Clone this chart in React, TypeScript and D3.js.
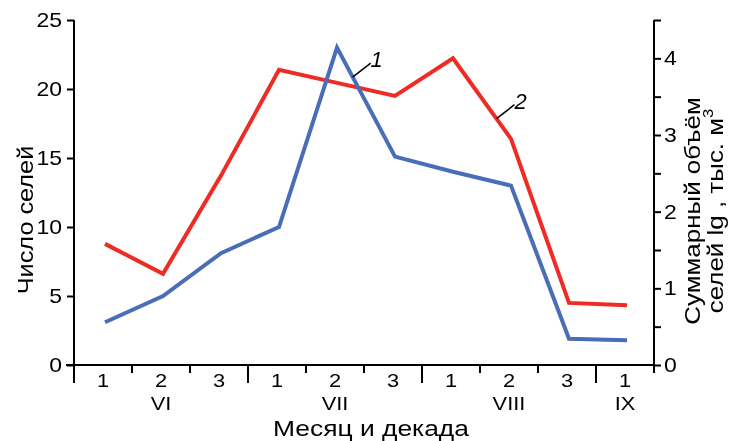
import React, { useEffect, useRef } from "react";
import * as d3 from "d3";

const decades = ["1", "2", "3", "1", "2", "3", "1", "2", "3", "1"];
const months = ["VI", "VII", "VIII", "IX"];
const monthDecades = [3, 3, 3, 1];
const mudflowCount = [3.1, 5.0, 8.1, 10.0, 23.0, 15.1, 14.0, 13.0, 1.9, 1.8];
const mudflowVolume = [1.58, 1.19, 2.47, 3.85, 3.68, 3.51, 4.0, 2.95, 0.81, 0.78];
const leftTicks = [0, 5, 10, 15, 20, 25];
const rightTicks = [0, 0.5, 1, 1.5, 2, 2.5, 3, 3.5, 4, 4.5];

const App = () => {
  const chartRef = useRef<SVGSVGElement | null>(null);

  useEffect(() => {
    const width = 733;
    const height = 441;
    const left = 74;
    const right = 654;
    const top = 20;
    const bottom = 365;
    const font = "'Liberation Sans', Arial, sans-serif";
    const sx = 1.15; // reference glyphs are a bit wider than Liberation Sans

    const svg = d3.select(chartRef.current);
    svg.selectAll("*").remove();
    svg.attr("width", width).attr("height", height);

    const x = d3
      .scaleBand<number>()
      .domain(d3.range(decades.length))
      .range([left, right])
      .padding(0);
    const xc = (i: number) => (x(i) as number) + x.bandwidth() / 2;

    const yLeft = d3.scaleLinear().domain([0, 25]).range([bottom, top]);
    const yRight = d3.scaleLinear().domain([0, 4.5]).range([bottom, top]);

    // left axis
    const gl = svg.append("g").attr("transform", `translate(${left},0)`);
    gl.call(
      d3.axisLeft(yLeft).tickValues(leftTicks).tickSize(7).tickPadding(4).tickFormat(d3.format("d"))
    );
    gl.select(".domain").remove();
    gl.selectAll(".tick text").attr("x", -12 / sx).attr("transform", `scale(${sx},1)`);
    gl.append("line")
      .attr("y1", top)
      .attr("y2", bottom + 18)
      .attr("stroke", "#000")
      .attr("stroke-width", 2);

    // right axis
    const gr = svg.append("g").attr("transform", `translate(${right},0)`);
    gr.call(
      d3
        .axisRight(yRight)
        .tickValues(rightTicks)
        .tickSize(7)
        .tickPadding(3)
        .tickFormat((d) => (Number.isInteger(+d) ? String(d) : ""))
    );
    gr.select(".domain").remove();
    gr.selectAll(".tick")
      .filter((d) => +d === 4.5)
      .select("text")
      .remove();
    gr.selectAll(".tick text").attr("x", 10 / sx).attr("transform", `scale(${sx},1)`);
    gr.append("line")
      .attr("y1", top)
      .attr("y2", bottom)
      .attr("stroke", "#000")
      .attr("stroke-width", 2);

    // bottom axis
    const gb = svg.append("g");
    gb.append("line")
      .attr("x1", left - 8)
      .attr("x2", right)
      .attr("y1", bottom)
      .attr("y2", bottom)
      .attr("stroke", "#000")
      .attr("stroke-width", 2);
    const monthStarts = Array.from(d3.cumsum([0, ...monthDecades.slice(0, -1)]));
    d3.range(1, decades.length + 1).forEach((i) => {
      const xp = i < decades.length ? (x(i) as number) : right;
      const long = monthStarts.includes(i);
      gb.append("line")
        .attr("x1", xp)
        .attr("x2", xp)
        .attr("y1", bottom)
        .attr("y2", bottom + (long ? 18 : 8))
        .attr("stroke", "#000")
        .attr("stroke-width", 2);
    });
    gb.selectAll("text.decade")
      .data(decades)
      .join("text")
      .attr("class", "decade")
      .attr("transform", (d, i) => `translate(${xc(i)},${bottom + 22}) scale(${sx},1)`)
      .attr("text-anchor", "middle")
      .text((d) => d);
    gb.selectAll("text.month")
      .data(months)
      .join("text")
      .attr("class", "month")
      .attr("transform", (d, i) => {
        const s = monthStarts[i];
        const mx = (xc(s) + xc(s + monthDecades[i] - 1)) / 2;
        return `translate(${mx},${bottom + 45}) scale(${sx},1)`;
      })
      .attr("text-anchor", "middle")
      .text((d) => d);

    svg.selectAll(".tick text")
      .attr("font-family", font)
      .attr("font-size", 20)
      .attr("fill", "#000");
    svg.selectAll("text.decade, text.month")
      .attr("font-family", font)
      .attr("font-size", 19)
      .attr("fill", "#000");
    svg.selectAll(".tick line").attr("stroke", "#000").attr("stroke-width", 2);

    // axis titles
    svg.append("text")
      .attr("transform", `translate(${(left + right) / 2 + 7},436) scale(${sx + 0.05},1)`)
      .attr("text-anchor", "middle")
      .attr("font-family", font)
      .attr("font-size", 22)
      .text("Месяц и декада");

    svg.append("text")
      .attr("transform", `translate(33,220) rotate(-90) scale(${sx},1)`)
      .attr("text-anchor", "middle")
      .attr("font-family", font)
      .attr("font-size", 22)
      .text("Число селей");

    const rt = svg.append("text")
      .attr("transform", `translate(700,211) rotate(-90) scale(${sx + 0.03},1)`)
      .attr("text-anchor", "middle")
      .attr("font-family", font)
      .attr("font-size", 22);
    rt.append("tspan").attr("x", 0).attr("dy", 0).text("Суммарный объём");
    const l2 = rt.append("tspan").attr("x", 0).attr("dy", 23);
    l2.append("tspan").text("селей lg , тыс. м");
    l2.append("tspan").attr("dy", -10).attr("font-size", 14).text("3");

    // lines
    const line = d3.line<number>().x((d, i) => xc(i) + 2);
    svg.append("path")
      .datum(mudflowVolume)
      .attr("fill", "none")
      .attr("stroke", "#ee2b24")
      .attr("stroke-width", 4)
      .attr("d", line.y((d) => yRight(d)));
    svg.append("path")
      .datum(mudflowCount)
      .attr("fill", "none")
      .attr("stroke", "#4a6db8")
      .attr("stroke-width", 4)
      .attr("d", line.y((d) => yLeft(d)));

    // series labels with leaders
    const labels = [
      { text: "1", series: mudflowCount, scale: yLeft, i0: 4, i1: 5, t: 0.27 },
      { text: "2", series: mudflowVolume, scale: yRight, i0: 6, i1: 7, t: 0.75 },
    ];
    labels.forEach((lb) => {
      const px = xc(lb.i0) + 2 + (xc(lb.i1) - xc(lb.i0)) * lb.t;
      const py = lb.scale(lb.series[lb.i0]) + (lb.scale(lb.series[lb.i1]) - lb.scale(lb.series[lb.i0])) * lb.t;
      svg.append("line")
        .attr("x1", px)
        .attr("y1", py)
        .attr("x2", px + 18)
        .attr("y2", py - 14)
        .attr("stroke", "#000")
        .attr("stroke-width", 1.5);
      svg.append("text")
        .attr("x", px + 24)
        .attr("y", py - 10)
        .attr("text-anchor", "middle")
        .attr("font-family", font)
        .attr("font-style", "italic")
        .attr("font-size", 22)
        .text(lb.text);
    });
  }, []);

  return (
    <div style={{ position: "fixed", left: 0, top: 0, overflow: "hidden" }}>
      <svg ref={chartRef} style={{ display: "block" }}></svg>
    </div>
  );
};

export default App;
